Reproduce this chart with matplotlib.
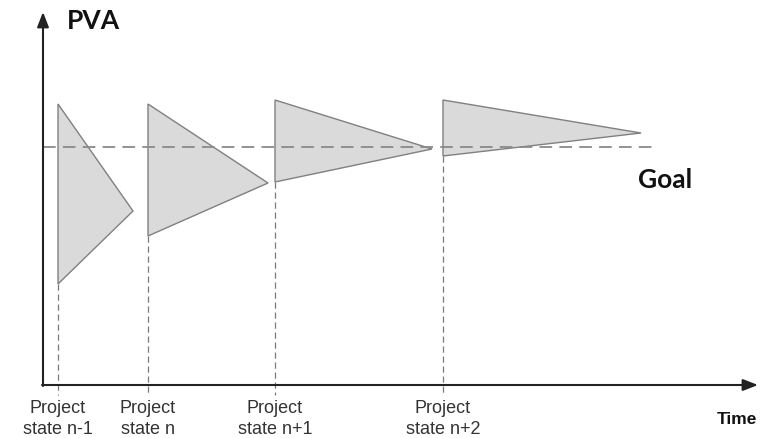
import matplotlib
matplotlib.use("Agg")
import matplotlib.pyplot as plt
from matplotlib.patches import Polygon

W, H = 761, 439

# Diagram values (pixel space of the reference, y grows downward)
states = ["Project\nstate n-1", "Project\nstate n", "Project\nstate n+1", "Project\nstate n+2"]
base_x = [58, 148, 275, 443]       # time position of each project state
top_y = [105, 105, 101, 101]       # upper estimate
bottom_y = [285, 237, 183, 157]    # lower estimate
apex_x = [133, 268, 432, 641]      # convergence time
apex_y = [212, 184, 150, 134]      # convergence value
goal_y = 148

origin = (43, 386)
x_end = 758
y_end = 13

fig = plt.figure(figsize=(W / 100, H / 100), dpi=100)
ax = fig.add_axes([0, 0, 1, 1])
ax.set_xlim(0, W)
ax.set_ylim(H, 0)
ax.axis("off")

# triangles
for bx, ty, by, axx, ayy in zip(base_x, top_y, bottom_y, apex_x, apex_y):
    ax.add_patch(Polygon([(bx, ty), (axx, ayy), (bx, by)], closed=True,
                         facecolor="#dadada", edgecolor="#808080", linewidth=1.0, zorder=2))
    ax.plot([bx, bx], [by, 396], color="#7a7a7a", linewidth=0.9,
            linestyle=(0, (5, 3)), zorder=1)

# goal line
ax.plot([origin[0], 655], [goal_y, goal_y], color="#8a8a8a", linewidth=1.3,
        linestyle=(0, (7, 4)), zorder=3)

# axes arrows
ax.annotate("", xy=(x_end, origin[1]), xytext=(origin[0] - 1, origin[1]),
            arrowprops=dict(arrowstyle="-|>,head_length=0.9,head_width=0.35",
                            color="#222222", lw=1.5, shrinkA=0, shrinkB=0))
ax.annotate("", xy=(origin[0], y_end), xytext=(origin[0], origin[1] + 1),
            arrowprops=dict(arrowstyle="-|>,head_length=0.9,head_width=0.35",
                            color="#222222", lw=1.5, shrinkA=0, shrinkB=0))

# labels
for bx, lab in zip(base_x, states):
    ax.text(bx, 419, lab, ha="center", va="center", fontsize=13,
            family="Liberation Sans", color="#333333", linespacing=1.25)

ax.text(67, 21, "PVA", ha="left", va="center", fontsize=19, fontweight="bold",
        family="Lato", color="#111111")
ax.text(638, 180, "Goal", ha="left", va="center", fontsize=19, fontweight="bold",
        family="Lato", color="#111111")
ax.text(717, 420, "Time", ha="left", va="center", fontsize=12.5, fontweight="bold",
        family="Liberation Sans", color="#111111")

fig.savefig("out.png", dpi=100)
